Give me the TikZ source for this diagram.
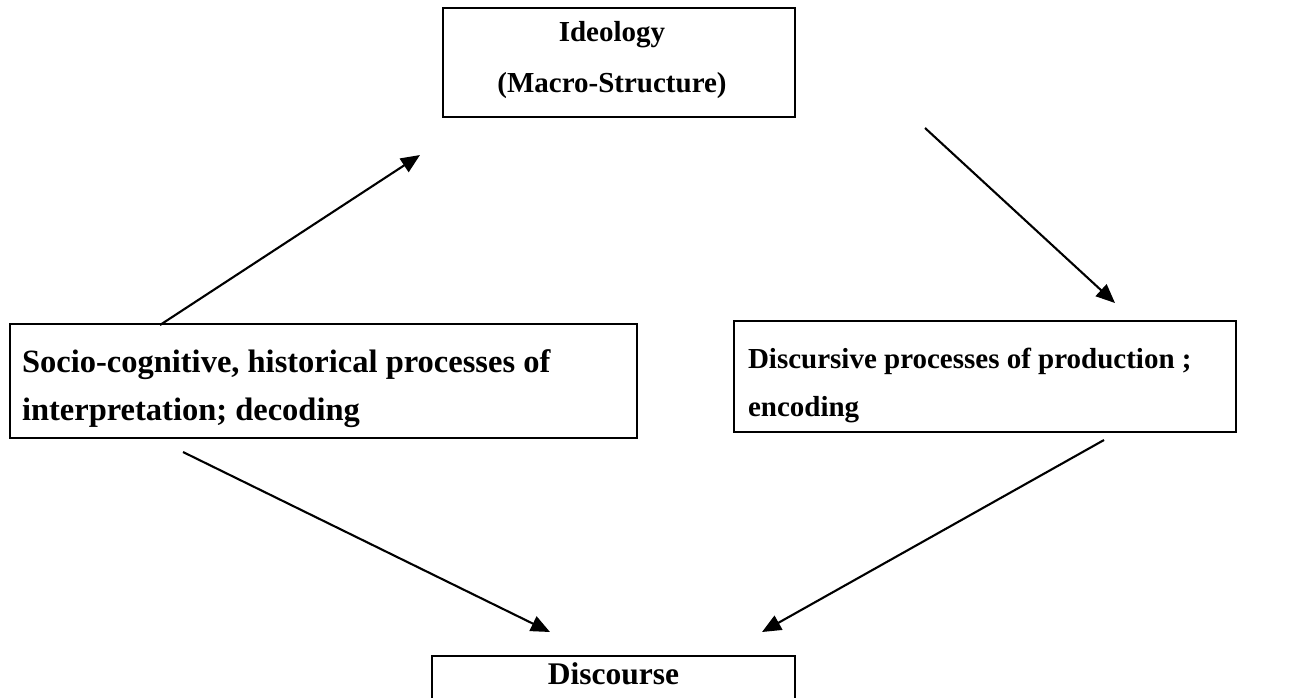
\documentclass[tikz,border=0pt]{standalone}
\usepackage{fontspec}
\setmainfont{Liberation Serif}
\usetikzlibrary{arrows.meta}
\begin{document}
\begin{tikzpicture}[x=1pt,y=-1pt,
  box/.style={draw, line width=1.9pt, rectangle, inner sep=0pt},
  small/.style={font=\fontsize{29}{48}\selectfont\bfseries},
  large/.style={font=\fontsize{32.5}{48}\selectfont\bfseries},
  arr/.style={line width=2.1pt, -{Triangle[length=19pt,width=16pt]}}]
\useasboundingbox (0,0) rectangle (1296,697);
\fill[white] (0,0) rectangle (1296,697);
% boxes
\node[box, small, minimum width=352pt, minimum height=109pt] (ideo) at (619,62.5)
  {\raisebox{-29.6pt}[0pt][0pt]{\begin{tabular}[b]{@{}c@{}}Ideology\\[3pt](Macro-Structure)\end{tabular}}\hspace*{14pt}};
\node[box, large, minimum height=114pt, inner xsep=12pt] (socio) at (323.5,381)
  {\makebox[603pt][l]{\raisebox{-39.5pt}[0pt][0pt]{\begin{tabular}[b]{@{}l@{}}Socio-cognitive, historical processes of\\interpretation; decoding\end{tabular}}}};
\node[box, small, minimum height=111pt, inner xsep=14pt] (discur) at (985,376.5)
  {\makebox[474pt][l]{\raisebox{-39.5pt}[0pt][0pt]{\begin{tabular}[b]{@{}l@{}}Discursive processes of production ;\\encoding\end{tabular}}}};
\node[box, font=\fontsize{31.5}{40}\selectfont\bfseries, anchor=north, minimum width=363pt, text height=29pt, text depth=100pt] (disc) at (613.5,655) {Discourse};
% arrow end points
\coordinate (a1s) at (160,325); \coordinate (a1e) at (420,155);
\coordinate (a2s) at (925,128); \coordinate (a2e) at (1115,303);
\coordinate (a3s) at (183,452); \coordinate (a3e) at (550,632);
\coordinate (a4s) at (1104,440); \coordinate (a4e) at (762,632);
\draw[arr] (a1s) -- (a1e);
\draw[arr] (a2s) -- (a2e);
\draw[arr] (a3s) -- (a3e);
\draw[arr] (a4s) -- (a4e);
\end{tikzpicture}
\end{document}
